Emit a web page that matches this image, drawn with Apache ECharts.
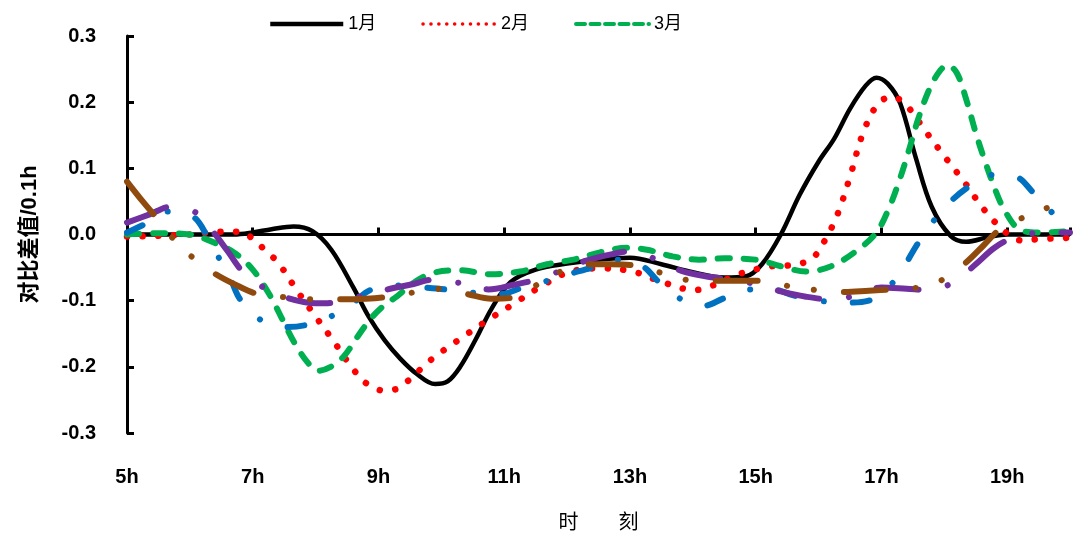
<!DOCTYPE html>
<html><head><meta charset="utf-8">
<script src="https://cdn.jsdelivr.net/npm/echarts@6/dist/echarts.min.js"></script>
<style>html,body{margin:0;padding:0;background:#fff}#c{width:1073px;height:538px}</style>
</head><body><div id="c"></div>
<script>
// legend names
const legendNames = ['1月', '2月', '3月'];
// x axis: hours 5h..20h, labels every 2h
const xStartHour = 5;
const xEndHour = 20;
const xStepHours = 2;
// y axis
const yMin = -0.3, yMax = 0.3, yStep = 0.1;
const xAxisTitle = '时　　刻';
const yAxisTitle = '对比差值/0.1h';

// [hour, value] pairs
const jan = [[5,0],[6,0],[6.7,0],[7.0,0.003],[7.3,0.008],[7.65,0.012],[7.95,0.005],[8.25,-0.023],[8.6,-0.08],[8.85,-0.125],[9.1,-0.16],[9.35,-0.188],[9.6,-0.21],[9.9,-0.226],[10.1,-0.222],[10.3,-0.2],[10.55,-0.158],[10.8,-0.112],[11.1,-0.072],[11.5,-0.053],[12,-0.044],[12.5,-0.038],[13,-0.035],[13.5,-0.045],[14,-0.057],[14.5,-0.065],[14.85,-0.063],[15.1,-0.045],[15.4,0.0],[15.7,0.06],[16.0,0.11],[16.25,0.145],[16.5,0.19],[16.75,0.225],[16.92,0.237],[17.1,0.228],[17.3,0.198],[17.55,0.115],[17.8,0.042],[18.1,-0.002],[18.35,-0.011],[18.7,-0.004],[19,0],[20,0]];
const feb = [[5,-0.003],[5.5,-0.002],[6,0],[6.5,0.004],[6.8,0.004],[7.02,-0.008],[7.22,-0.026],[7.4,-0.042],[7.7,-0.084],[8.0,-0.124],[8.3,-0.163],[8.6,-0.204],[8.85,-0.228],[9.1,-0.236],[9.3,-0.233],[9.46,-0.222],[9.84,-0.189],[10.25,-0.161],[10.68,-0.133],[11.13,-0.106],[11.56,-0.08],[12.02,-0.057],[12.52,-0.051],[13.05,-0.056],[13.52,-0.072],[14.03,-0.084],[14.29,-0.078],[14.76,-0.059],[15.25,-0.048],[15.6,-0.046],[15.9,-0.036],[16.1,-0.009],[16.3,0.03],[16.5,0.087],[16.71,0.154],[16.95,0.198],[17.17,0.208],[17.4,0.195],[17.71,0.155],[18.02,0.116],[18.33,0.078],[18.63,0.038],[18.98,0.003],[19.22,-0.009],[19.5,-0.007],[20,-0.005]];
const mar = [[5,0.0],[5.5,0.002],[6.0,0.0],[6.33,-0.01],[6.7,-0.027],[7.0,-0.053],[7.28,-0.093],[7.47,-0.128],[7.66,-0.163],[7.87,-0.193],[8.03,-0.206],[8.24,-0.2],[8.45,-0.184],[8.67,-0.154],[8.87,-0.128],[9.08,-0.108],[9.3,-0.093],[9.56,-0.073],[9.87,-0.058],[10.3,-0.054],[10.78,-0.06],[11.25,-0.056],[11.68,-0.045],[12.1,-0.038],[12.52,-0.027],[12.95,-0.02],[13.27,-0.023],[13.68,-0.033],[14.1,-0.038],[14.5,-0.036],[15.0,-0.038],[15.4,-0.048],[15.8,-0.056],[16.2,-0.048],[16.6,-0.025],[16.92,0.003],[17.13,0.042],[17.29,0.083],[17.44,0.128],[17.58,0.173],[17.76,0.219],[17.92,0.246],[18.05,0.256],[18.2,0.244],[18.35,0.204],[18.5,0.154],[18.64,0.113],[18.83,0.063],[18.98,0.033],[19.19,0.008],[19.5,0.003],[20,0.005]];
const blueSeries = [[5.0,0.003],[5.27,0.015],[5.67,0.035],[6.05,0.027],[6.28,-0.003],[6.46,-0.035],[6.65,-0.068],[6.8,-0.098],[7.11,-0.128],[7.49,-0.14],[7.84,-0.137],[8.24,-0.124],[8.6,-0.103],[8.87,-0.084],[9.3,-0.077],[9.71,-0.08],[10.06,-0.083],[10.5,-0.088],[10.94,-0.09],[11.3,-0.08],[11.62,-0.072],[12.02,-0.06],[12.4,-0.05],[12.76,-0.038],[13.2,-0.048],[13.44,-0.07],[13.76,-0.095],[14.16,-0.108],[14.48,-0.097],[14.87,-0.083],[15.27,-0.083],[15.6,-0.092],[16.0,-0.1],[16.44,-0.103],[16.8,-0.1],[17.16,-0.075],[17.4,-0.042],[17.57,-0.015],[17.81,0.018],[18.08,0.048],[18.37,0.071],[18.71,0.09],[19.14,0.087],[19.4,0.065],[19.67,0.038],[19.95,0.005]];
const purpleSeries = [[5.0,0.018],[5.35,0.03],[5.7,0.042],[6.1,0.033],[6.38,0.003],[6.6,-0.025],[6.84,-0.056],[7.17,-0.08],[7.52,-0.095],[8.0,-0.104],[8.3,-0.103],[8.76,-0.092],[9.14,-0.083],[9.5,-0.076],[9.9,-0.068],[10.33,-0.074],[10.75,-0.083],[11.15,-0.076],[11.52,-0.068],[11.92,-0.054],[12.29,-0.04],[12.7,-0.03],[13.05,-0.025],[13.44,-0.039],[13.82,-0.055],[14.2,-0.063],[14.6,-0.068],[15.0,-0.075],[15.4,-0.086],[15.8,-0.094],[16.2,-0.098],[16.6,-0.092],[17.0,-0.08],[17.4,-0.082],[17.76,-0.084],[18.17,-0.071],[18.5,-0.045],[18.8,-0.02],[19.1,-0.005],[19.56,0.003],[20,0.003]];
const brownSeries = [[5.0,0.08],[5.25,0.05],[5.49,0.023],[5.75,-0.008],[6.06,-0.036],[6.41,-0.06],[6.75,-0.077],[7.08,-0.09],[7.54,-0.095],[7.97,-0.098],[8.4,-0.098],[8.8,-0.097],[9.16,-0.094],[9.59,-0.087],[10.02,-0.082],[10.41,-0.09],[10.8,-0.097],[11.17,-0.095],[11.54,-0.075],[11.92,-0.055],[12.32,-0.045],[12.7,-0.045],[13.1,-0.047],[13.53,-0.059],[13.94,-0.069],[14.35,-0.07],[14.75,-0.07],[15.14,-0.07],[15.57,-0.079],[15.98,-0.084],[16.41,-0.087],[16.8,-0.085],[17.17,-0.083],[17.6,-0.08],[18.0,-0.067],[18.35,-0.042],[18.62,-0.017],[18.9,0.009],[19.29,0.027],[19.7,0.042],[20,0.046]];

const FONT = "'Liberation Sans','Noto Sans CJK SC',sans-serif";
const shift = d => d.map(p => [p[0] - xStartHour, p[1]]);
const span = xEndHour - xStartHour;

function line(name, data, style, z) {
  return {
    name: name, type: 'line', data: shift(data), symbol: 'none', showSymbol: false,
    smooth: 0.35, z: z, emphasis: { disabled: true },
    itemStyle: { color: style.color },
    lineStyle: style
  };
}

const chart = echarts.init(document.getElementById('c'), null, { renderer: 'canvas' });
const option = {
  animation: false,
  backgroundColor: '#fff',
  grid: { left: 127, right: 3, top: 36, bottom: 104, containLabel: false },
  legend: {
    left: 263, top: 10, itemWidth: 73, itemHeight: 14, itemGap: 45,
    textStyle: { fontSize: 18, color: '#000', fontFamily: FONT },
    data: [
      { name: legendNames[0], itemStyle: { opacity: 0 }, lineStyle: { width: 4.5 } },
      { name: legendNames[1], itemStyle: { opacity: 0 }, lineStyle: { width: 3.5, type: [0.1, 7.8], cap: 'round' } },
      { name: legendNames[2], itemStyle: { opacity: 0 }, lineStyle: { width: 4, type: [9, 5.5], cap: 'round' } }
    ]
  },
  xAxis: [
    {
      type: 'value', min: 0, max: span, interval: xStepHours, position: 'bottom',
      axisLine: { onZero: true, lineStyle: { color: '#000', width: 3 } },
      axisTick: { inside: true, length: 7, lineStyle: { color: '#000', width: 3 } },
      axisLabel: { show: false }, splitLine: { show: false }
    },
    {
      type: 'value', min: 0, max: span, interval: xStepHours, position: 'bottom',
      axisLine: { show: false, onZero: false }, axisTick: { show: false }, splitLine: { show: false },
      axisLabel: {
        formatter: v => (v % xStepHours === 0 && v < span) ? (v + xStartHour) + 'h' : '',
        margin: 34, fontSize: 20, fontWeight: 'bold', color: '#000', fontFamily: FONT
      },
      name: xAxisTitle, nameLocation: 'middle', nameGap: 80,
      nameTextStyle: { fontSize: 20, color: '#000', fontFamily: FONT }
    }
  ],
  yAxis: {
    type: 'value', min: yMin, max: yMax, interval: yStep,
    axisLine: { show: true, onZero: false, lineStyle: { color: '#000', width: 3 } },
    axisTick: { show: true, inside: true, length: 7, lineStyle: { color: '#000', width: 3 } },
    splitLine: { show: false },
    axisLabel: {
      formatter: v => Math.abs(v) < 1e-9 ? '0.0' : v.toFixed(1),
      margin: 31, fontSize: 20, fontWeight: 'bold', color: '#000', fontFamily: FONT
    },
    name: yAxisTitle, nameLocation: 'middle', nameGap: 86,
    nameTextStyle: { fontSize: 22, fontWeight: 'bold', color: '#000', fontFamily: FONT }
  },
  series: [
    line(legendNames[0], jan, { color: '#000000', width: 4.5 }, 2),
    line(legendNames[1], feb, { color: '#FF0000', width: 6.5, type: [0.1, 15.5], cap: 'round' }, 3),
    line(legendNames[2], mar, { color: '#00B050', width: 6, type: [12, 14], cap: 'round' }, 4),
    line('s4', blueSeries, { color: '#0070C0', width: 6, type: [17, 29, 0.1, 29], cap: 'round' }, 5),
    line('s5', purpleSeries, { color: '#7030A0', width: 6, type: [42, 30, 0.1, 29], cap: 'round' }, 6),
    line('s6', brownSeries, { color: '#904A0E', width: 6, type: [42, 30, 0.1, 27, 0.1, 30], cap: 'round' }, 7)
  ]
};
chart.setOption(option);
</script>
</body></html>
